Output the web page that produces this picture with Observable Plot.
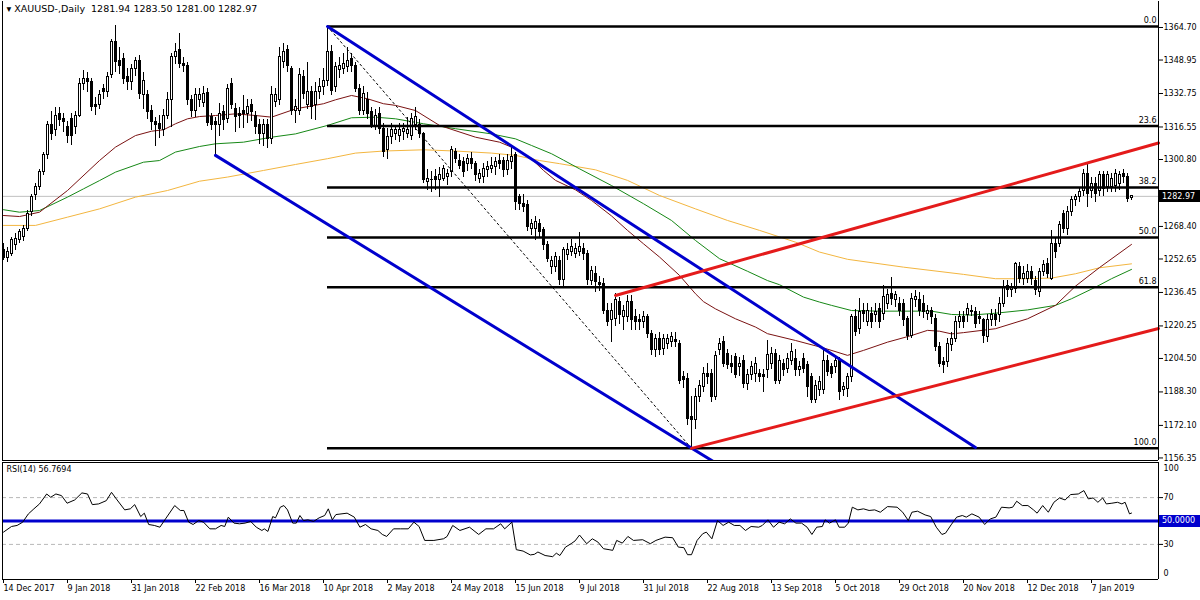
<!DOCTYPE html>
<html><head><meta charset="utf-8">
<script src="https://cdn.jsdelivr.net/npm/d3@7"></script>
<script src="https://cdn.jsdelivr.net/npm/@observablehq/plot@0.6"></script>
<style>
html,body{margin:0;padding:0;background:#fff;}
#chart{width:1200px;height:600px;position:relative;overflow:hidden;background:#fff;}
#chart svg{display:block;}
</style></head><body><div id="chart"></div>
<script>
// ---------- DATA ----------
const title = "\u25BE XAUUSD-,Daily  1281.94 1283.50 1281.00 1282.97";
const lastPrice = 1282.97;
const open = [
1257.0,1253.0,1255.0,1259.2,1261.6,1263.2,1267.3,1275.3,1283.4,1287.4,
1294.7,1302.8,1317.3,1314.9,1322.9,1320.5,1316.5,1320.5,1316.5,1322.1,
1337.4,1339.9,1338.3,1327.0,1327.0,1335.0,1333.4,1341.5,1357.6,1348.7,
1349.5,1340.7,1338.3,1344.7,1348.7,1331.8,1331.8,1324.5,1318.9,1318.1,
1314.9,1322.1,1329.4,1350.3,1353.6,1347.1,1346.3,1329.4,1324.5,1329.4,
1328.1,1332.9,1321.3,1318.9,1317.3,1323.7,1320.5,1337.4,1325.3,1322.9,
1324.5,1322.9,1327.0,1322.1,1317.3,1313.2,1317.3,1310.8,1328.6,1329.4,
1347.9,1353.6,1344.7,1324.5,1324.5,1340.7,1327.0,1333.4,1327.0,1333.4,
1336.0,1339.0,1352.8,1335.8,1344.0,1344.7,1345.5,1349.5,1346.3,1335.0,
1324.5,1329.4,1323.7,1317.0,1322.9,1315.7,1305.2,1311.6,1313.2,1312.4,
1314.1,1313.2,1312.4,1317.3,1317.3,1313.2,1289.8,1290.7,1292.3,1290.7,
1291.5,1292.3,1294.7,1304.4,1300.3,1299.5,1298.7,1301.1,1298.7,1291.5,
1292.3,1295.5,1296.3,1297.1,1300.3,1300.3,1295.5,1299.5,1302.8,1282.6,
1279.4,1278.6,1267.3,1267.3,1269.7,1266.5,1259.2,1248.7,1248.7,1251.9,
1242.3,1254.4,1256.0,1255.2,1256.0,1257.6,1255.2,1242.2,1245.5,1241.0,
1240.6,1227.7,1222.9,1223.7,1231.8,1224.5,1224.5,1231.8,1224.5,1222.9,
1222.1,1224.5,1216.4,1208.4,1214.0,1209.2,1211.6,1212.4,1213.2,1211.6,
1195.4,1194.6,1176.1,1174.5,1185.8,1190.6,1197.1,1197.1,1185.8,1208.4,
1212.4,1206.7,1201.9,1205.0,1200.3,1203.5,1192.2,1196.3,1197.1,1197.1,
1196.3,1198.7,1202.0,1206.7,1193.8,1201.9,1199.5,1203.5,1204.3,1198.7,
1204.3,1201.1,1195.5,1184.5,1189.0,1189.0,1203.5,1200.3,1200.3,1203.5,
1189.0,1189.8,1195.5,1224.5,1218.9,1227.7,1222.1,1226.1,1225.3,1228.5,
1226.1,1230.9,1235.8,1232.6,1230.9,1230.9,1223.7,1215.6,1232.6,1232.6,
1231.0,1226.1,1227.7,1223.7,1210.0,1202.7,1202.7,1210.8,1214.0,1222.1,
1224.5,1225.3,1226.9,1226.9,1224.5,1222.9,1214.8,1222.9,1225.3,1225.3,
1231.0,1239.8,1237.4,1238.0,1248.7,1243.1,1243.1,1246.3,1242.2,1236.6,
1246.3,1250.3,1243.1,1260.0,1260.0,1274.5,1267.3,1275.3,1281.0,1282.6,
1285.8,1293.9,1285.8,1289.0,1285.8,1293.1,1287.4,1287.4,1288.2,1289.0,
1293.9,1292.3,1281.94];
const high = [
1260,1258,1263,1265,1267,1269,1276,1284,1289,1296,
1304,1319,1324,1326,1326,1323,1319,1323,1324,1340,
1344,1343,1340,1331,1334,1337,1343,1359,1365.8,1355,
1352,1345,1347,1350,1351,1343,1334,1327,1321,1322,
1325,1333,1352,1357,1361.6,1350,1348,1332,1335,1335,
1336,1335,1323,1321.3,1328,1327,1337,1340,1328,1326,
1332,1330,1330,1324,1320,1320,1320,1336,1335,1355,
1357,1356,1346,1330,1345,1344,1348,1336,1338,1340,
1345,1365.2,1356,1348,1350,1352,1355.2,1352,1348,1337,
1336,1333,1326,1325,1326,1318,1316,1318,1317,1318,
1318,1321,1323,1326,1320,1314,1296,1295,1296,1297,
1298,1296,1307,1306,1303,1302,1303,1304,1300,1296,
1299,1300,1302,1302,1303,1302,1303,1307.6,1304,1284,
1284,1281,1272,1273,1272,1268,1261,1254,1256,1254,
1258,1260,1262,1260,1265.7,1260,1257,1249,1249,1244,
1243,1231,1231,1236,1234,1230,1235,1235,1228,1226,
1227,1226,1218,1216,1217,1216,1216,1217,1217,1213,
1198,1197,1186,1190,1194,1200,1202,1199,1208,1214,
1215,1209,1206,1207,1205,1206,1199,1203,1205,1199,
1199,1213.2,1210,1209,1206,1204,1207,1211.6,1209,1203,
1207,1203,1197,1194,1196,1208.4,1206,1202,1206,1205,
1193,1197,1226,1228,1233.4,1231,1230.9,1229,1230.9,1231,
1239.8,1238,1243.9,1237,1234,1233,1225,1236,1237.4,1236.6,
1235,1230,1229,1226,1212,1205,1214,1217,1225,1227,
1227,1231,1230,1229,1227,1224,1226,1228,1228,1234,
1242.2,1242,1241,1251,1251,1249,1250,1249,1244,1248,
1252,1253,1266.4,1263,1271,1276,1278,1283,1284,1287,
1296,1298.7,1292,1292,1295,1295,1295,1294,1296,1295,
1296,1294,1283.5];
const low = [
1252,1251,1254,1257,1260,1261,1266,1273,1281,1286,
1293,1301,1310,1312,1317,1314,1308.4,1307.6,1313,1321,
1334,1333,1324,1322,1325,1330,1331,1340,1343,1342,
1337,1334,1334,1341,1330,1325,1320,1315,1307.1,1311,
1312,1320,1316.5,1347,1345,1343,1327,1321,1321,1326,
1326,1317,1315,1302.8,1312,1315,1318,1325,1314,1316,
1316,1318,1319,1313,1308,1307,1306,1308,1326,1327,
1345,1343,1322,1318,1322,1330,1325,1320,1319.7,1330,
1332,1336,1332,1333,1340,1342,1343,1343,1333,1322,
1322,1320,1316,1315,1313,1302,1301,1308,1310,1309,
1310,1311,1310,1315,1311,1289,1286,1285,1286,1282.6,
1290,1288,1292,1299,1296,1292,1295,1296,1290,1289,
1289,1292,1294,1293,1296,1292,1293,1296,1276,1276,
1275,1266,1264,1261.6,1263,1257,1251,1245,1246,1240,
1238.2,1252,1254,1253,1254,1252,1240,1240,1236.6,1237,
1226,1220,1212.4,1220,1221,1218,1222,1218,1218,1218,
1219,1214,1206,1205.1,1206,1206,1209,1210,1210,1192,
1190,1172,1161,1170,1183,1188,1192,1183,1184,1206,
1200,1199,1197,1195,1196,1190,1189,1194,1193,1193,
1188,1195,1199,1192,1192,1196,1197,1201,1196,1196,
1197,1185.8,1182.6,1182.6,1186,1187,1196,1195,1197,1184.2,
1186,1185.8,1193,1215,1216,1222,1220,1219,1222,1219,
1223,1228,1230,1229,1225,1220,1213,1214,1229,1225,
1224,1223,1221,1208,1200,1197.1,1200,1208,1212,1219,
1219,1222,1225,1219,1221,1211.6,1212,1220,1220,1222,
1229,1234,1234,1236,1241,1240,1241,1240,1235,1234.2,
1244,1243,1242,1253,1258,1265,1264,1273,1278,1280,
1283,1277.7,1282,1280.2,1283,1283,1285,1285,1285,1286,
1289,1280,1281.0];
const close = [
1253.0,1256.0,1261.6,1262.4,1265.6,1267.3,1274.5,1282.6,1287.4,1294.7,
1302.8,1317.3,1313.2,1322.1,1319.7,1318.9,1312.4,1312.4,1322.1,1337.4,
1339.9,1338.3,1326.2,1326.2,1331.8,1333.4,1340.7,1357.6,1347.9,1346.3,
1339.9,1338.3,1344.7,1348.7,1332.6,1339.0,1323.7,1318.9,1317.3,1315.7,
1322.1,1329.4,1350.3,1352.8,1347.1,1346.3,1329.4,1324.5,1331.8,1331.8,
1332.6,1318.4,1317.3,1317.3,1322.9,1319.7,1335.0,1327.0,1321.3,1322.1,
1322.9,1326.2,1323.7,1316.5,1313.2,1317.3,1310.8,1331.8,1331.8,1350.3,
1352.8,1346.3,1324.5,1326.2,1341.5,1332.6,1333.4,1326.2,1333.4,1335.8,
1339.0,1352.8,1334.2,1345.5,1346.3,1347.1,1348.7,1346.3,1335.0,1324.5,
1332.6,1322.9,1317.3,1322.0,1315.7,1304.4,1311.6,1314.9,1315.0,1315.0,
1315.7,1314.9,1320.5,1321.3,1313.2,1290.7,1291.5,1291.0,1290.7,1293.1,
1296.3,1293.9,1305.2,1301.1,1297.9,1294.7,1301.1,1298.7,1293.1,1293.9,
1296.3,1297.1,1297.9,1299.5,1298.7,1295.5,1300.3,1302.0,1280.2,1279.4,
1277.7,1268.1,1269.7,1270.5,1265.7,1259.2,1252.8,1251.9,1253.6,1242.3,
1256.8,1256.8,1258.4,1257.6,1258.4,1255.2,1242.3,1247.0,1241.4,1240.3,
1227.7,1222.1,1227.7,1232.6,1225.3,1227.7,1231.8,1222.9,1222.1,1222.1,
1224.5,1216.4,1208.4,1214.0,1208.4,1214.0,1214.0,1214.8,1212.4,1193.8,
1194.0,1175.3,1174.5,1185.8,1191.4,1197.1,1195.5,1185.8,1205.9,1211.6,
1202.0,1201.1,1200.3,1196.5,1201.9,1192.2,1196.3,1200.3,1201.9,1195.5,
1195.5,1206.0,1206.7,1193.8,1203.5,1198.7,1204.3,1207.6,1198.7,1200.3,
1199.5,1190.6,1184.2,1191.0,1193.0,1203.5,1197.9,1197.1,1203.5,1188.2,
1190.6,1195.5,1224.5,1217.2,1226.9,1226.1,1227.7,1222.1,1226.9,1222.1,
1234.2,1235.0,1233.4,1235.0,1227.7,1222.9,1215.6,1233.4,1234.2,1227.7,
1227.0,1227.7,1224.5,1210.0,1201.9,1201.1,1211.6,1214.0,1222.1,1224.5,
1222.1,1228.5,1227.7,1221.3,1223.7,1215.6,1222.9,1225.3,1222.9,1231.0,
1239.0,1237.4,1239.0,1250.3,1243.1,1245.5,1246.3,1243.1,1237.4,1246.3,
1249.5,1245.5,1260.0,1255.9,1268.9,1267.3,1275.3,1281.0,1282.6,1285.0,
1293.9,1284.2,1289.0,1284.2,1293.1,1286.6,1293.1,1291.5,1293.9,1293.1,
1292.3,1281.8,1282.97];

// moving averages: [bar, price]
const maFast = [[0,1273.7],[4,1273.2],[9,1275.3],[16,1285.8],[24,1300.3],[28,1306.8],[33,1312.4],[37,1314.5],[40,1315.2],[43,1318.1],[46,1320.5],[49,1321.6],[53,1322.1],[58,1322.9],[63,1322.1],[67,1321.3],[73,1325.3],[80,1327.8],[83,1329.7],[87,1331.8],[91,1330.2],[95,1327.8],[98,1327.0],[103,1324.5],[109,1317.3],[118,1311.6],[124,1309.2],[128,1306.0],[132,1301.1],[135,1295.5],[138,1290.7],[143,1286.1],[147,1281.0],[152,1273.5],[156,1266.5],[160,1260.0],[164,1253.6],[169,1244.7],[173,1235.8],[175,1232.0],[178,1228.5],[183,1223.7],[188,1219.7],[191,1216.5],[198,1213.2],[205,1209.6],[211,1206.0],[215,1208.4],[221,1212.4],[227,1215.6],[231,1218.1],[234,1217.7],[237,1216.4],[240,1217.0],[248,1218.9],[256,1223.7],[263,1230.2],[268,1239.5],[274,1248.5],[282,1259.7]];
const maMid = [[0,1276.5],[4,1275.3],[9,1276.1],[16,1282.6],[20,1286.6],[24,1290.6],[28,1294.7],[35,1299.5],[39,1300.3],[43,1304.4],[49,1307.1],[53,1308.4],[60,1309.2],[67,1311.6],[73,1313.2],[81,1317.3],[87,1321.0],[93,1321.3],[98,1320.5],[105,1318.1],[113,1315.7],[122,1313.2],[128,1310.8],[132,1307.6],[137,1303.6],[140,1300.5],[144,1296.3],[152,1288.2],[160,1279.4],[167,1271.3],[173,1261.6],[179,1252.8],[186,1246.7],[191,1242.2],[194,1240.2],[200,1234.2],[204,1231.8],[207,1230.2],[212,1227.7],[219,1227.4],[227,1227.4],[232,1227.4],[237,1225.8],[242,1225.5],[248,1226.4],[256,1228.0],[263,1230.2],[267,1233.4],[273,1239.0],[277,1243.1],[282,1247.6]];
const maSlow = [[0,1268.9],[8,1268.9],[16,1272.9],[24,1276.9],[33,1282.6],[41,1285.8],[49,1290.3],[56,1292.3],[65,1295.5],[73,1298.4],[81,1301.2],[88,1303.9],[95,1304.9],[105,1305.5],[113,1304.9],[122,1303.9],[128,1302.8],[134,1300.3],[139,1298.8],[148,1295.8],[156,1290.7],[164,1283.4],[173,1276.9],[181,1271.3],[189,1266.5],[198,1260.8],[204,1256.0],[211,1252.5],[225,1248.7],[240,1245.2],[248,1243.1],[256,1243.1],[262,1243.4],[268,1245.5],[274,1248.4],[282,1250.3]];

// Fibonacci retracement between swing high and swing low: [bar, price]
const fibHigh = [81, 1365.2];
const fibLow = [172, 1161.0];
const fibLevels = [0, 23.6, 38.2, 50, 61.8, 100];

// hand-drawn trend lines: [bar, price]
const blueUpper = [[81,1365.2],[243,1161.4]];
const blueLower = [[53,1302.8],[180,1151.6]];
const redUpper = [[153,1235.0],[288.75,1308.8]];
const redLower = [[172,1161.0],[288.75,1219.0]];

// 1284.60 sits under the current-price tag in the reference, so it is left out
const priceTicks = [1364.70,1348.95,1332.75,1316.55,1300.80,1268.40,1252.65,1236.45,1220.25,1204.50,1188.30,1172.10,1156.35];
const dateTickBars = [0,16,32,48,64,80,96,112,128,144,160,176,192,208,224,240,256,272];
const dateTickLabels = ["14 Dec 2017","9 Jan 2018","31 Jan 2018","22 Feb 2018","16 Mar 2018","10 Apr 2018","2 May 2018","24 May 2018","15 Jun 2018","9 Jul 2018","31 Jul 2018","22 Aug 2018","13 Sep 2018","5 Oct 2018","29 Oct 2018","20 Nov 2018","12 Dec 2018","7 Jan 2019"];

// RSI(14): [bar, value]
const rsiName = "RSI(14)";
const rsiLast = 56.7694;
const rsiLevels = [70, 30];
const rsiMid = 50;
const rsiBounds = [0, 100];
const rsiPoints = [[0,40.5],[2,45.3],[3.4,46.2],[4.8,49],[6.2,56],[7.6,60.4],[9,64.6],[10.8,73.1],[11.8,70.3],[13.1,73.1],[14.5,71.7],[15.9,65.2],[17.8,68],[19.6,74],[21,73.1],[22.2,64],[23.8,64.6],[25.7,67.4],[27,74.5],[28.4,68],[30.3,59.5],[31.7,60.4],[32.8,64],[34.3,53.8],[35.2,56.7],[36.3,47],[37.7,46.2],[39.1,44.7],[40.5,51.8],[42.8,63.2],[44.2,59],[45.1,59],[46.3,49],[47.4,47],[48.8,50.4],[50,49],[51.6,43.3],[53,43.3],[54.4,46.2],[55.3,45.3],[56.2,53.3],[57.6,48.2],[59,47.6],[60.4,48.2],[61.8,49.6],[63.2,44.7],[64.6,41.9],[65.2,43.3],[66.1,41.1],[67.3,53.8],[68,52.7],[69.2,61.8],[70.1,63.2],[71,59.5],[72.3,48.2],[73.2,48.2],[74.1,54.7],[75,50.4],[76.1,51],[77.5,49.6],[78.9,52.7],[80.3,54.7],[81.2,60.4],[82.2,51],[83.1,55.5],[85.9,56.7],[87.7,53.3],[89.1,44.7],[90.5,47],[91.9,43.3],[93.6,41.9],[94.7,38.5],[95.8,36.8],[97.5,43.3],[99.3,43.3],[101.2,43.3],[102.6,49],[103.9,45.3],[105.3,33.4],[107.6,33.4],[110,34.8],[110.9,36.8],[112.3,46.2],[114.1,41.9],[116.5,44.7],[118.8,38.5],[120.6,43.3],[122.5,43.3],[124.3,47.6],[125.3,43.3],[127.1,49],[128.2,25.5],[129.9,24.3],[131.7,21],[132.7,21.5],[133.6,23.5],[135.4,20.5],[137.3,19.5],[138.2,22.5],[139.1,20.5],[140.5,27.7],[141.9,30.6],[142.9,33],[144,38],[145.8,30.6],[147.2,34.8],[148.6,32],[150,26.3],[151.4,25.5],[152.3,24.9],[153.3,33.4],[154.7,31.1],[156.1,36.8],[157.5,33.4],[159.8,34],[161.7,30.6],[163.1,33.4],[165.4,36.2],[167.3,35.7],[168.7,27.7],[170.1,27.2],[171,21.2],[172,21.2],[173.4,33.4],[174.8,39.1],[175.7,40.5],[177.1,34.8],[178.5,50.4],[179.9,46.2],[181.3,49],[182.7,46.2],[184.1,46.2],[185.5,41.9],[186.9,45.3],[188.8,44.7],[189.7,46.2],[191.1,51],[192.5,44.7],[193.9,49],[195.3,47.6],[196.7,51.8],[198.1,48.2],[199.5,48.2],[200.9,44.7],[202.1,38.5],[203.3,44.7],[204.7,45.3],[205.4,51],[206.5,48.2],[208,51],[208.9,44.7],[210.3,44.7],[211.2,48.2],[212.2,61.8],[213.6,59.5],[215,60.4],[216.4,59],[217.8,59.5],[219.2,57.5],[221,62.3],[223.4,61.8],[224.8,57.5],[226.2,50.4],[227.1,57.5],[228.5,58.4],[230.4,55.2],[231.8,53.8],[233.2,44.7],[234.6,38.5],[235.5,39.6],[236.9,46.7],[238.3,53.3],[239.7,54.7],[240.7,53.3],[242.1,56.1],[243.9,53.3],[245.3,47],[246.7,51.8],[248.1,53.3],[249.5,61.8],[251.4,61.2],[252.3,61.8],[253.3,66.9],[254.7,63.2],[256.1,63.2],[257.5,59.5],[258.4,56.7],[259.8,63.2],[261.2,57.5],[262.6,66],[264,69.7],[265.4,68],[266.8,72.6],[268.7,73.1],[270.1,76],[271.2,68.9],[272.4,69.7],[273.6,66],[274.8,69.7],[275.7,64.6],[277.1,65.2],[278.5,66],[279.6,64.6],[280.4,66],[281.5,56.1],[282,56.77]];

// ---------- BUILD ----------
const bars = open.map((o, i) => ({i, open: o, high: high[i], low: low[i], close: close[i]}));
const up = bars.filter(d => d.close >= d.open);
const down = bars.filter(d => d.close < d.open);
const fibRows = fibLevels.map(l => ({label: l.toFixed(1), price: fibHigh[1] - (fibHigh[1] - fibLow[1]) * l / 100}));

const xDomain = [-0.25, 288.75];
const yDomain = [1155.11, 1377.285];
const FONT = "DejaVu Sans";
const BLUE = "#0000cd", RED = "#e41b1b";
const baseStyle = {fontFamily: FONT, fontSize: "8px", color: "black", background: "white", overflow: "visible"};

const main = Plot.plot({
  width: 1200, height: 462,
  marginLeft: 2, marginRight: 42, marginTop: 1, marginBottom: 2,
  x: {domain: xDomain, axis: null},
  y: {domain: yDomain, axis: null},
  style: baseStyle,
  marks: [
    Plot.ruleY([lastPrice], {stroke: "#c0c0c0", strokeWidth: 1}),
    Plot.line(maSlow, {stroke: "#f3b640", strokeWidth: 1}),
    Plot.line(maMid, {stroke: "#168816", strokeWidth: 1}),
    Plot.line(maFast, {stroke: "#7a1212", strokeWidth: 1}),
    Plot.ruleX(bars, {x: "i", y1: "low", y2: "high", stroke: "black", strokeWidth: 1, shapeRendering: "crispEdges"}),
    Plot.rect(up, {x1: d => d.i - 0.25, x2: d => d.i + 0.25, y1: "open", y2: "close", fill: "white", stroke: "black", strokeWidth: 1, shapeRendering: "crispEdges"}),
    Plot.rect(down, {x1: d => d.i - 0.25, x2: d => d.i + 0.25, y1: "open", y2: "close", fill: "black", stroke: "black", strokeWidth: 1, shapeRendering: "crispEdges"}),
    Plot.line([fibHigh, fibLow], {stroke: "black", strokeWidth: 1, strokeDasharray: "2,3"}),
    Plot.ruleY(fibRows, {y: "price", x1: fibHigh[0], x2: xDomain[1], stroke: "black", strokeWidth: 2.5}),
    Plot.text(fibRows, {x: xDomain[1], y: "price", text: "label", textAnchor: "end", dx: -2, dy: -6, fill: "black"}),
    Plot.line(blueUpper, {stroke: BLUE, strokeWidth: 3}),
    Plot.line(blueLower, {stroke: BLUE, strokeWidth: 3, clip: true}),
    Plot.line(redUpper, {stroke: RED, strokeWidth: 3}),
    Plot.line(redLower, {stroke: RED, strokeWidth: 3}),
    Plot.axisY({anchor: "right", ticks: priceTicks, tickFormat: d => d.toFixed(2), tickSize: 4, tickPadding: 1, label: null, stroke: "black", fill: "black"}),
    Plot.ruleX(xDomain, {stroke: "black"}),
    Plot.ruleY([yDomain[0]], {stroke: "black"}),
    Plot.text([title], {frameAnchor: "top-left", textAnchor: "start", lineAnchor: "top", dx: 4, dy: 4, fontSize: 9.5, fill: "black"})
  ]
});

const rsi = Plot.plot({
  width: 1200, height: 138,
  marginLeft: 2, marginRight: 42, marginTop: 0, marginBottom: 21,
  x: {domain: xDomain},
  y: {domain: rsiBounds, axis: null},
  style: baseStyle,
  marks: [
    Plot.ruleY(rsiLevels, {stroke: "#b8b8b8", strokeDasharray: "4,3"}),
    Plot.ruleY([rsiMid], {stroke: BLUE, strokeWidth: 3}),
    Plot.line(rsiPoints, {stroke: "black", strokeWidth: 1}),
    Plot.ruleY(rsiBounds, {stroke: "black"}),
    Plot.ruleX(xDomain, {stroke: "black"}),
    Plot.axisX({ticks: dateTickBars, tickFormat: d => dateTickLabels[dateTickBars.indexOf(d)], textAnchor: "start", tickSize: 4, tickPadding: 2, label: null, stroke: "black", fill: "black"}),
    Plot.axisY({anchor: "right", ticks: rsiLevels, tickSize: 4, tickPadding: 1, label: null, stroke: "black", fill: "black"}),
    Plot.text([rsiBounds[1]], {x: xDomain[1], y: d => d, text: d => String(d), textAnchor: "start", dx: 5, dy: 6, fill: "black"}),
    Plot.text([rsiBounds[0]], {x: xDomain[1], y: d => d, text: d => String(d), textAnchor: "start", dx: 5, dy: -6, fill: "black"}),
    Plot.text([rsiName + " " + rsiLast.toFixed(4)], {frameAnchor: "top-left", textAnchor: "start", lineAnchor: "top", dx: 4, dy: 4, fill: "black"})
  ]
});

// price / level tags on the right axis, positioned with the plots' own scales
function tag(svgNode, yPix, label, bg) {
  const s = d3.select(svgNode);
  const xr = 1158;
  const g = s.append("g");
  g.append("rect").attr("x", xr + 1).attr("y", Math.round(yPix) - 6).attr("width", 1200 - xr).attr("height", 12).attr("fill", bg);
  g.append("text").attr("x", xr + 4).attr("y", yPix).attr("dy", "0.35em").attr("fill", "white")
    .attr("text-anchor", "start").attr("font-family", FONT).attr("font-size", 8).text(label);
}
tag(main, main.scale("y").apply(lastPrice), lastPrice.toFixed(2), "black");
tag(rsi, rsi.scale("y").apply(rsiMid), rsiMid.toFixed(4), BLUE);

const root = document.getElementById("chart");
root.appendChild(main);
root.appendChild(rsi);
</script>
</body></html>
